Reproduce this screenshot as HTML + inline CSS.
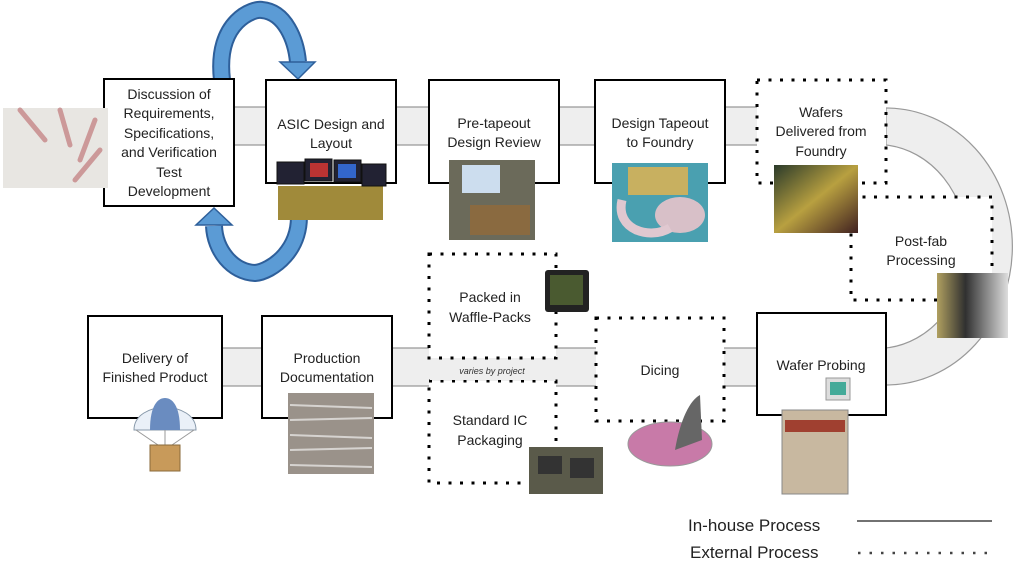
<!DOCTYPE html>
<html><head><meta charset="utf-8"><style>
html,body{margin:0;padding:0;background:#fff;}
svg{display:block;font-family:"Liberation Sans",sans-serif;}
</style></head><body>
<svg width="1024" height="583" viewBox="0 0 1024 583" xmlns="http://www.w3.org/2000/svg">
<defs>
<linearGradient id="wf" x1="0" y1="0" x2="1" y2="1"><stop offset="0" stop-color="#2a3a2a"/><stop offset="0.5" stop-color="#b8a040"/><stop offset="1" stop-color="#402020"/></linearGradient>
<linearGradient id="pf" x1="0" y1="0" x2="1" y2="0"><stop offset="0" stop-color="#b0a060"/><stop offset="0.4" stop-color="#303030"/><stop offset="0.7" stop-color="#888"/><stop offset="1" stop-color="#ddd"/></linearGradient>
</defs>
<!-- bands -->
<rect x="234" y="107" width="530" height="38" fill="#eeeeee"/>
<g stroke="#999" stroke-width="1.2">
<line x1="234" y1="107" x2="757" y2="107"/><line x1="234" y1="145" x2="757" y2="145"/>
</g>
<path d="M886 108 A125 137 0 0 1 886 385 L886 348 A90 102 0 0 0 886 145 Z" fill="#eeeeee" stroke="#999" stroke-width="1.2"/>
<rect x="222" y="348" width="540" height="38" fill="#eeeeee"/>
<g stroke="#999" stroke-width="1.2">
<line x1="222" y1="348" x2="757" y2="348"/><line x1="222" y1="386" x2="757" y2="386"/>
</g>
<!-- blue loop arrows -->
<path d="M222 80 C215 20 255 8 262 10 C285 12 296 40 298 62" fill="none" stroke="#2e5f9a" stroke-width="18"/>
<path d="M222 80 C215 20 255 8 262 10 C285 12 296 40 298 62" fill="none" stroke="#5b9bd5" stroke-width="14"/>
<polygon points="280,62 315,62 298,79" fill="#5b9bd5" stroke="#2e5f9a" stroke-width="1.5"/>
<path d="M298 206 C305 250 270 272 255 273 C232 272 215 250 214 226" fill="none" stroke="#2e5f9a" stroke-width="18"/>
<path d="M298 206 C305 250 270 272 255 273 C232 272 215 250 214 226" fill="none" stroke="#5b9bd5" stroke-width="14"/>
<polygon points="196,225 232,225 214,208" fill="#5b9bd5" stroke="#2e5f9a" stroke-width="1.5"/>
<!-- solid boxes -->
<g fill="#fff" stroke="#000" stroke-width="2">
<rect x="104" y="79" width="130" height="127"/>
<rect x="266" y="80" width="130" height="103"/>
<rect x="429" y="80" width="130" height="103"/>
<rect x="595" y="80" width="130" height="103"/>
<rect x="88" y="316" width="134" height="102"/>
<rect x="262" y="316" width="130" height="102"/>
<rect x="757" y="313" width="129" height="102"/>
</g>
<!-- dotted boxes -->
<g fill="#fff" stroke="#000" stroke-width="3" stroke-dasharray="3 8.5">
<rect x="757" y="80" width="129" height="103"/>
<rect x="851" y="197" width="141" height="103"/>
<rect x="429" y="254" width="127" height="104"/>
<rect x="429" y="381" width="127" height="102"/>
<rect x="596" y="318" width="128" height="103"/>
</g>
<rect x="430" y="361" width="125" height="19" fill="#eeeeee"/>
<!-- images -->
<rect x="3" y="108" width="105" height="80" fill="#e8e6e2"/>
<g stroke="#c99" stroke-width="5" stroke-linecap="round"><line x1="20" y1="110" x2="45" y2="140"/><line x1="60" y1="110" x2="70" y2="145"/><line x1="95" y1="120" x2="80" y2="160"/><line x1="100" y1="150" x2="75" y2="180"/></g>
<rect x="278" y="186" width="105" height="34" fill="#a08a3a"/>
<g fill="#223" stroke="#111"><rect x="277" y="162" width="27" height="22"/><rect x="305" y="159" width="27" height="22"/><rect x="334" y="160" width="27" height="22"/><rect x="362" y="164" width="24" height="22"/></g>
<rect x="310" y="163" width="18" height="14" fill="#b33"/><rect x="338" y="164" width="18" height="14" fill="#36c"/>
<rect x="449" y="160" width="86" height="80" fill="#6b6a5a"/><rect x="462" y="165" width="38" height="28" fill="#cde"/><rect x="470" y="205" width="60" height="30" fill="#8a6a40"/>
<rect x="612" y="163" width="96" height="79" fill="#4aa0b0"/><rect x="628" y="167" width="60" height="28" fill="#c8b060"/><ellipse cx="680" cy="215" rx="25" ry="18" fill="#d8c0c8"/><path d="M622 200 C615 230 650 240 670 228" stroke="#e0c8d0" stroke-width="9" fill="none"/>
<rect x="774" y="165" width="84" height="68" fill="url(#wf)"/>
<rect x="937" y="273" width="71" height="65" fill="url(#pf)"/>
<rect x="545" y="270" width="44" height="42" fill="#222" rx="3"/><rect x="550" y="275" width="33" height="30" fill="#4a5a30"/>
<rect x="288" y="393" width="86" height="81" fill="#9a928a"/>
<g stroke="#fff" stroke-width="2" opacity="0.6"><line x1="290" y1="405" x2="372" y2="408"/><line x1="290" y1="420" x2="372" y2="418"/><line x1="290" y1="435" x2="372" y2="438"/><line x1="290" y1="450" x2="372" y2="448"/><line x1="290" y1="465" x2="372" y2="467"/></g>
<path d="M134 430 C134 400 196 400 196 430 Z" fill="#eaf0f8" stroke="#89a" stroke-width="1"/>
<path d="M150 430 C150 405 158 398 165 398 C172 398 180 405 180 430 Z" fill="#6a8cc0"/>
<g stroke="#999" stroke-width="1"><line x1="136" y1="430" x2="158" y2="445"/><line x1="194" y1="430" x2="172" y2="445"/><line x1="165" y1="430" x2="165" y2="445"/></g>
<rect x="150" y="445" width="30" height="26" fill="#c89a5a" stroke="#8a6a3a"/>
<rect x="529" y="447" width="74" height="47" fill="#5a5a4a"/><rect x="538" y="456" width="24" height="18" fill="#333"/><rect x="570" y="458" width="24" height="20" fill="#333"/>
<ellipse cx="670" cy="444" rx="42" ry="22" fill="#c87aa8" stroke="#999"/>
<path d="M675 450 C680 420 690 400 700 395 L702 440 Z" fill="#666"/>
<rect x="782" y="410" width="66" height="84" fill="#c8b8a0" stroke="#888"/><rect x="785" y="420" width="60" height="12" fill="#a04030"/>
<rect x="826" y="378" width="24" height="22" fill="#ddd" stroke="#999"/><rect x="830" y="382" width="16" height="13" fill="#4a9"/>
<!-- text -->
<g font-size="14" fill="#222" text-anchor="middle">
<text x="169" y="99">Discussion of</text><text x="169" y="118">Requirements,</text><text x="169" y="138">Specifications,</text><text x="169" y="157">and Verification</text><text x="169" y="177">Test</text><text x="169" y="196">Development</text>
<text x="331" y="129">ASIC Design and</text><text x="331" y="148">Layout</text>
<text x="494" y="128">Pre-tapeout</text><text x="494" y="147">Design Review</text>
<text x="660" y="128">Design Tapeout</text><text x="660" y="147">to Foundry</text>
<text x="821" y="117">Wafers</text><text x="821" y="136">Delivered from</text><text x="821" y="156">Foundry</text>
<text x="921" y="246">Post-fab</text><text x="921" y="265">Processing</text>
<text x="490" y="302">Packed in</text><text x="490" y="322">Waffle-Packs</text>
<text x="490" y="425">Standard IC</text><text x="490" y="445">Packaging</text>
<text x="660" y="375">Dicing</text>
<text x="821" y="370">Wafer Probing</text>
<text x="155" y="363">Delivery of</text><text x="155" y="382">Finished Product</text>
<text x="327" y="363">Production</text><text x="327" y="382">Documentation</text>
</g>
<text x="492" y="374" font-size="9" font-style="italic" fill="#333" text-anchor="middle">varies by project</text>
<text x="688" y="531" font-size="17" fill="#222">In-house Process</text>
<line x1="857" y1="521" x2="992" y2="521" stroke="#444" stroke-width="1.5"/>
<text x="690" y="558" font-size="17" fill="#222">External Process</text>
<line x1="858" y1="553" x2="992" y2="553" stroke="#444" stroke-width="2.5" stroke-dasharray="2.5 9"/>
</svg>
</body></html>
